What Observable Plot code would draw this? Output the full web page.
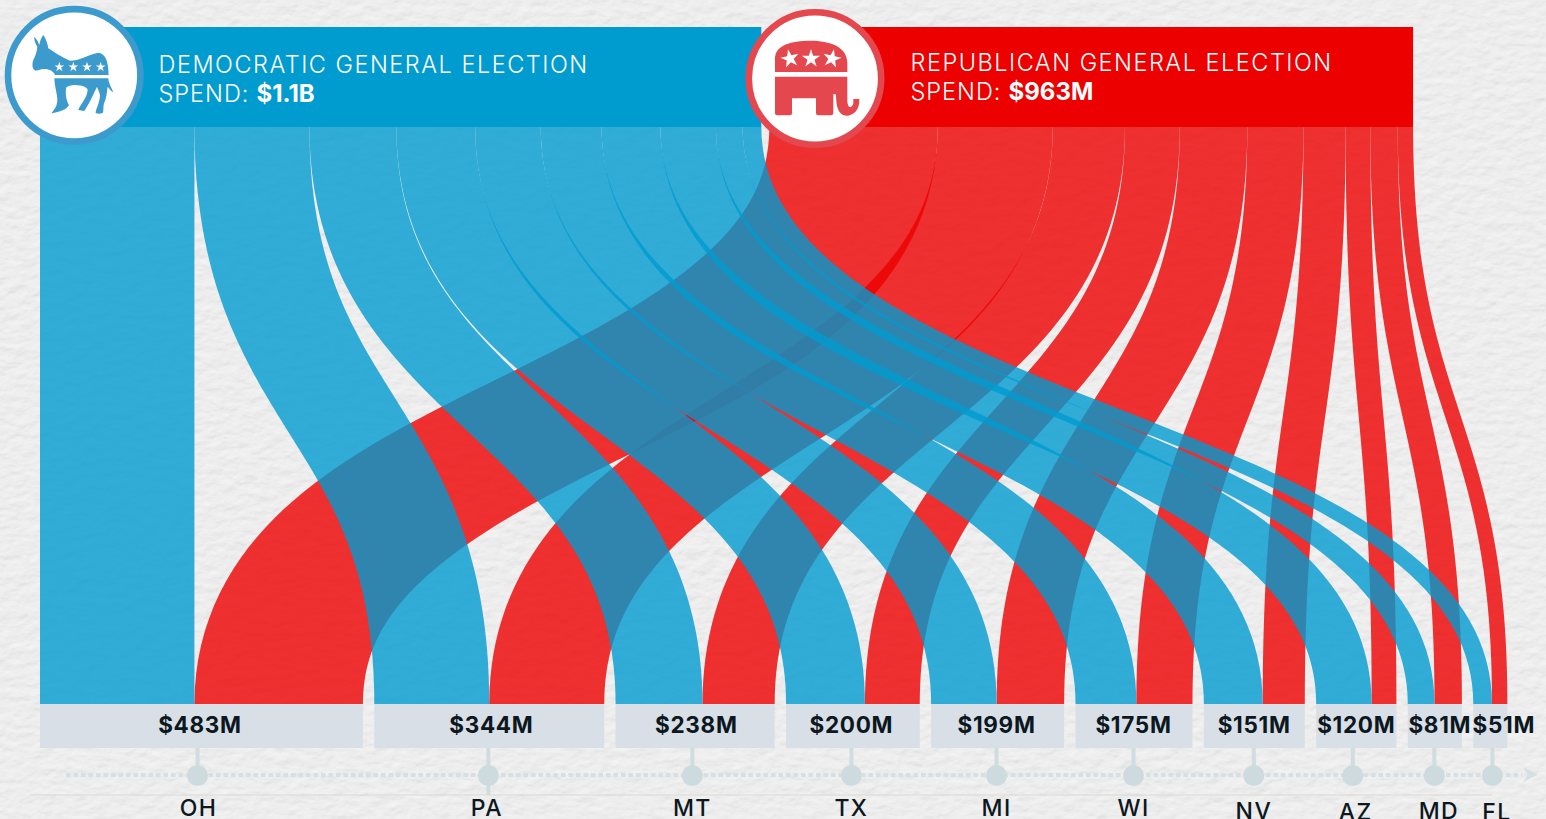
<!DOCTYPE html>
<html>
<head>
<meta charset="utf-8">
<title>General election spend by state</title>
<script src="https://cdn.jsdelivr.net/npm/d3@7"></script>
<script src="https://cdn.jsdelivr.net/npm/@observablehq/plot@0.6"></script>
<style>
  html, body { margin: 0; padding: 0; overflow: hidden; background-color: #efefef; }
  body {
    background-image: url("data:image/svg+xml;utf8,<svg xmlns='http://www.w3.org/2000/svg' width='1546' height='819'><filter id='p' x='0' y='0' width='100%' height='100%'><feTurbulence type='fractalNoise' baseFrequency='0.07 0.11' numOctaves='4' seed='11'/><feDiffuseLighting surfaceScale='0.8' lighting-color='%23f2f2f2' diffuseConstant='1.03'><feDistantLight azimuth='70' elevation='68'/></feDiffuseLighting></filter><rect width='1546' height='819' filter='url(%23p)'/></svg>");
  }
  #chart { width: 1546px; height: 819px; }
  svg { display: block; }
  .head-long { letter-spacing: 1.5px; }
  .head-short { letter-spacing: 1px; }
  .amount { letter-spacing: 0.7px; }
  .state { letter-spacing: 1.4px; }
</style>
</head>
<body>
<div id="chart"></div>
<script>
// Spend per state in $M, largest market first.
const states = ["OH", "PA", "MT", "TX", "MI", "WI", "NV", "AZ", "MD", "FL"];
const demSpend = [231, 172, 130, 118, 98, 91, 88, 83, 40, 28];
const repSpend = [252, 172, 108, 82, 101, 84, 63, 37, 41, 23];
const demTotalLabel = "$1.1B";
const repTotalLabel = "$963M";

// Layout
const W = 1546, H = 819;
const pxPerM = 0.6685;
const left = 40;
const stateGapM = 17;     // space between state blocks along the bottom
const partyGapM = 12;     // space between the two party stacks along the top
const flowTop = 126.5, flowBottom = 704;
const bandTaper = 0.36;   // how much a band narrows where it runs most diagonally
const m = (px) => (px - left) / pxPerM;

// Small placement tweaks for the amount labels and the timeline ticks
const amountNudge = [-2, 1.6, 0.7, -2, -1.6, -1, -0.7, -0.5, 4.5, 13];
const tickNudge = [-4.4, -1.4, -3.3, -2, -1.6, -1, -1, -4, -1, 1.6];
const stateNudge = [1, -1.5, 0, 0, 0, 0, 0, 3, 4.5, 4.5];
const stateY = [808, 808, 808, 808, 808, 808, 811, 812, 811, 812];

const BLUE = "#009bcf", RED = "#ee0000";
const FONT = "Inter, 'Noto Sans', sans-serif";
const INK = "#0c171e";

// Stack each party along the top and each state along the bottom
let demTop = 0, repTop = d3.sum(demSpend) + partyGapM, bottom = 0;
const repStart = repTop;
const rows = states.map((state, i) => {
  const dem = demSpend[i], rep = repSpend[i], total = dem + rep;
  const row = {
    state, dem, rep, total,
    bx0: bottom,
    bDemMid: bottom + dem / 2,
    bRepMid: bottom + dem + rep / 2,
    tDemMid: demTop + dem / 2,
    tRepMid: repTop + rep / 2,
    mid: bottom + total / 2
  };
  row.bx1 = bottom + total;
  demTop += dem; repTop += rep; bottom += total + stateGapM;
  return row;
});
const demEnd = demTop, repEnd = repTop;

// Outline of one ribbon: an S-curve with vertical ends, carrying its value as width
const ribbonSteps = d3.range(0, 81).map((i) => i / 80);
function ribbon(state, x0, x1, value) {
  const y0 = flowTop, y1 = flowBottom, ym = (y0 + y1) / 2;
  return ribbonSteps.map((t) => {
    const u = 1 - t;
    const cx = u*u*u*x0 + 3*u*u*t*x0 + 3*u*t*t*x1 + t*t*t*x1;
    const cy = u*u*u*y0 + 3*u*u*t*ym + 3*u*t*t*ym + t*t*t*y1;
    const dx = 6*u*t*(x1 - x0) * pxPerM;
    const dy = 3*u*u*(ym - y0) + 3*t*t*(y1 - ym);
    const len = Math.hypot(dx, dy);
    const cos = dy / len, sin = dx / len;
    const half = value / 2 * Math.pow(cos, bandTaper);
    return {
      state,
      xa: cx - half * cos,
      ya: cy + half * pxPerM * sin,
      xb: cx + half * cos,
      yb: cy - half * pxPerM * sin
    };
  });
}
const repRibbons = rows.flatMap((d) => ribbon(d.state, d.tRepMid, d.bRepMid, d.rep));
const demRibbons = rows.flatMap((d) => ribbon(d.state, d.tDemMid, d.bDemMid, d.dem));

// Hand-drawn party emblems, placed over the header circles
function emblems() {
  const g = d3.create("svg:g");
  const star = d3.symbol(d3.symbolStar);

  const donkey = g.append("g").attr("transform", "translate(25,30) scale(0.3333)");
  donkey.append("path").attr("fill", "#3c9bcc").attr("d",
    "M28 20 L38 33 L43 45 C45 32 49 22 55 15 C63 26 68 42 70 55 C85 65 110 82 135 92 " +
    "C165 92 195 72 220 68 C240 70 250 90 251 135 L90 135 C84 122 70 115 50 118 " +
    "L32 122 C22 118 20 105 25 90 C32 78 36 62 37 50 C30 38 27 30 28 20 Z " +
    "M88 145 L250 145 C250 158 258 170 265 186 L258 182 L248 170 " +
    "C246 182 246 200 237 220 C234 232 236 240 234 248 C226 252 218 252 212 249 " +
    "C212 238 224 220 225 196 C224 186 218 178 216 170 C208 186 198 212 178 243 " +
    "L160 240 C164 226 188 204 188 178 C182 170 172 166 150 165 C136 166 130 168 124 172 " +
    "C120 190 124 212 132 225 C126 238 104 246 80 250 C86 238 98 232 97 205 C95 185 88 165 88 145 Z");
  [103, 145, 186, 227].forEach((x) => {
    donkey.append("path").attr("d", star.size(270)()).attr("fill", "#fff")
      .attr("transform", `translate(${x},111)`);
  });

  const elephant = g.append("g").attr("transform", "translate(730,0) scale(0.3333)");
  elephant.append("path").attr("fill", "#e4474e").attr("d",
    "M135 216 L135 175 C135 135 185 122 240 122 C300 122 352 140 352 190 L352 216 Z");
  elephant.append("path").attr("fill", "#e4474e").attr("d",
    "M135 230 H352 V300 C352 325 365 328 370 310 V297 H388 C390 330 370 347 350 347 " +
    "C325 347 318 320 318 283 H310 V340 Q310 346 303 346 H265 Q258 346 258 340 V295 H186 V340 " +
    "Q186 346 180 346 H141 Q135 346 135 340 Z");
  [[180, -12], [243, 0], [306, 12]].forEach(([x, a]) => {
    elephant.append("path").attr("d", star.size(950)()).attr("fill", "#fff")
      .attr("transform", `translate(${x},176) rotate(${a})`);
  });

  // Arrow head closing the timeline
  g.append("path").attr("fill", "#d3e0e4").attr("d", "M1523 767 L1538 774.5 L1523 782 L1528 774.5 Z");
  return g.node();
}

const band = (data, color) => Plot.area(data, {
  x1: "xa", y1: "ya", x2: "xb", y2: "yb",
  z: "state",
  fill: color,
  fillOpacity: 0.8
});

const headText = (label, x, y, size, weight, className) => Plot.text([label], {
  x: () => m(x), y: () => y, text: (d) => d, textAnchor: "start",
  fill: "#fff", fontFamily: FONT, fontSize: size, fontWeight: weight, className
});

const plot = Plot.plot({
  width: W,
  height: H,
  margin: 0,
  style: { background: "transparent", overflow: "hidden" },
  x: { domain: [m(0), m(W)], range: [0, W], axis: null },
  y: { domain: [0, H], range: [0, H], axis: null },
  marks: [
    // Timeline running under the state blocks
    Plot.ruleY([794.5], { x1: m(30), x2: m(1492), stroke: "#dcd9d2", strokeWidth: 1 }),
    Plot.ruleY([774.5], { x1: m(66), x2: m(1522), stroke: "#d3e0e4", strokeWidth: 4, strokeDasharray: "4.5,3" }),
    Plot.ruleX(rows, {
      x: (d, i) => d.mid + tickNudge[i] / pxPerM,
      y1: () => 748, y2: (d) => d.state === "PA" ? 795 : 775,
      stroke: "#cfdde1", strokeWidth: 4
    }),
    Plot.dot(rows, {
      x: (d, i) => d.mid + tickNudge[i] / pxPerM,
      y: () => 775, r: 10.5, fill: "#cddbdf"
    }),

    // Amount boxes beneath the flows
    Plot.rectY(rows, {
      x1: "bx0", x2: "bx1", y1: () => flowBottom, y2: () => 748,
      fill: "#d8dfe6"
    }),

    // Flows from the party headers down to the states, Republican layer first
    band(repRibbons, RED),
    band(demRibbons, BLUE),

    // Party headers
    Plot.rectY([0], { x1: () => 0, x2: () => demEnd, y1: () => 27, y2: () => 127, fill: BLUE }),
    Plot.rectY([0], { x1: () => repStart, x2: () => repEnd, y1: () => 27, y2: () => 127, fill: "#ec0000" }),

    Plot.dot([0], { x: () => m(73.7), y: () => 74.8, r: 66.2, fill: "#fff", stroke: "#3c9bcc", strokeWidth: 6.6 }),
    Plot.dot([0], { x: () => m(814.5), y: () => 78, r: 66.2, fill: "#fff", stroke: "#e4474e", strokeWidth: 6.6 }),
    emblems,

    headText("DEMOCRATIC GENERAL ELECTION", 158, 64.5, 23.5, 300, "head-long"),
    headText("SPEND:", 158, 93.5, 23.5, 300, "head-short"),
    headText(demTotalLabel, 256, 93.5, 24, 700),
    headText("REPUBLICAN GENERAL ELECTION", 910, 62.5, 23.5, 300, "head-long"),
    headText("SPEND:", 910, 91.5, 23.5, 300, "head-short"),
    headText(repTotalLabel, 1008, 91.5, 24, 700),

    // State totals and names
    Plot.text(rows, {
      x: (d, i) => d.mid + amountNudge[i] / pxPerM,
      y: () => 725.5,
      text: (d) => `$${d.total}M`,
      fill: INK, fontFamily: FONT, fontSize: 22.5, fontWeight: 700, className: "amount"
    }),
    Plot.text(rows, {
      x: (d, i) => d.mid + (tickNudge[i] + stateNudge[i]) / pxPerM,
      y: (d, i) => stateY[i],
      text: "state",
      fill: INK, fontFamily: FONT, fontSize: 23, fontWeight: 500, className: "state"
    })
  ]
});

document.getElementById("chart").appendChild(plot);
</script>
</body>
</html>
